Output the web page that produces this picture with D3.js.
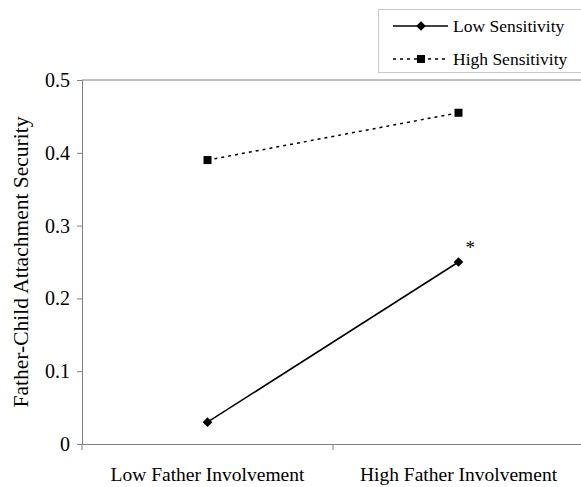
<!DOCTYPE html>
<html>
<head>
<meta charset="utf-8">
<script src="https://cdn.jsdelivr.net/npm/d3@7"></script>
<style>
  body { margin: 0; background: #fff; }
  text { font-family: "Liberation Serif", "Times New Roman", serif; fill: #000; }
</style>
</head>
<body>
<div id="chart"></div>
<script>
// data
const categories = ["Low Father Involvement", "High Father Involvement"];
const lowSensitivity = [0.03, 0.25];
const highSensitivity = [0.39, 0.455];
const yTicks = [0, 0.1, 0.2, 0.3, 0.4, 0.5];

const WIDTH = 581, HEIGHT = 487;
const LEFT = 82, TOP = 80, BOTTOM = 444;
const CAT_WIDTH = 251;
const SERIF = "Liberation Serif, Times New Roman, serif";

const svg = d3.select("#chart").append("svg")
    .attr("width", WIDTH)
    .attr("height", HEIGHT);

// scales
const x = d3.scaleBand()
    .domain(categories)
    .range([LEFT, LEFT + CAT_WIDTH * categories.length]);

const y = d3.scaleLinear()
    .domain([0, 0.5])
    .range([BOTTOM, TOP]);

// plot area top border
svg.append("line")
    .attr("x1", LEFT).attr("x2", WIDTH)
    .attr("y1", TOP).attr("y2", TOP)
    .attr("stroke", "#808080").attr("stroke-width", 1);

// y axis
const yAxis = svg.append("g")
    .attr("transform", `translate(${LEFT},0)`)
    .call(d3.axisLeft(y).tickValues(yTicks).tickSize(5).tickPadding(7)
        .tickFormat(d => d === 0 ? "0" : d3.format(".1f")(d)))
    .attr("font-family", SERIF);
yAxis.select(".domain").attr("stroke", "#808080");
yAxis.selectAll(".tick line").attr("stroke", "#808080");
yAxis.selectAll("text").style("font-size", "20px").style("font-family", SERIF);

// x axis
const xAxis = svg.append("g")
    .attr("transform", `translate(0,${BOTTOM})`)
    .call(d3.axisBottom(x).tickSize(0).tickPadding(23))
    .attr("font-family", SERIF);
xAxis.select(".domain").attr("stroke", "#808080").attr("d", `M${LEFT},0.5H${WIDTH}`);
xAxis.selectAll("text").style("font-size", "19.5px").style("font-family", SERIF);
// category boundary ticks
const boundaries = categories.map(c => x(c));
xAxis.selectAll(".bound").data(boundaries).join("line")
    .attr("class", "bound")
    .attr("x1", d => d).attr("x2", d => d)
    .attr("y1", 0).attr("y2", 6)
    .attr("stroke", "#808080");

// y axis title
svg.append("text")
    .attr("transform", `translate(28,${(TOP + BOTTOM) / 2}) rotate(-90)`)
    .attr("text-anchor", "middle")
    .style("font-size", "21.5px")
    .text("Father-Child Attachment Security");

const cx = (d, i) => x(categories[i]) + x.bandwidth() / 2;

const line = d3.line()
    .x((d, i) => cx(d, i))
    .y(d => y(d));

// high sensitivity (dotted, squares)
svg.append("path")
    .datum(highSensitivity)
    .attr("d", line)
    .attr("fill", "none")
    .attr("stroke", "#000")
    .attr("stroke-width", 1.5)
    .attr("stroke-dasharray", "3,4");

svg.selectAll(".sq").data(highSensitivity).join("rect")
    .attr("class", "sq")
    .attr("x", (d, i) => cx(d, i) - 4)
    .attr("y", d => y(d) - 4)
    .attr("width", 8).attr("height", 8)
    .attr("fill", "#000");

// low sensitivity (solid, diamonds)
svg.append("path")
    .datum(lowSensitivity)
    .attr("d", line)
    .attr("fill", "none")
    .attr("stroke", "#000")
    .attr("stroke-width", 1.5);

const diamond = d3.symbol().type(d3.symbolDiamond2).size(60);
svg.selectAll(".dm").data(lowSensitivity).join("path")
    .attr("class", "dm")
    .attr("d", diamond)
    .attr("transform", (d, i) => `translate(${cx(d, i)},${y(d)})`)
    .attr("fill", "#000");

// significance marker
svg.append("text")
    .attr("x", cx(lowSensitivity[1], 1) + 7)
    .attr("y", y(lowSensitivity[1]) - 8)
    .style("font-size", "19px")
    .text("*");

// legend
const legend = svg.append("g");
legend.append("rect")
    .attr("x", 378.5).attr("y", 9.5)
    .attr("width", 210).attr("height", 63)
    .attr("fill", "#fff")
    .attr("stroke", "#c8c8c8");

const legendRows = [
    { label: "Low Sensitivity", dash: null, marker: "diamond" },
    { label: "High Sensitivity", dash: "3,4", marker: "square" }
];
legendRows.forEach((r, i) => {
    const ly = 26 + i * 33;
    legend.append("line")
        .attr("x1", 393).attr("x2", 448)
        .attr("y1", ly).attr("y2", ly)
        .attr("stroke", "#000").attr("stroke-width", 1.5)
        .attr("stroke-dasharray", r.dash);
    if (r.marker === "diamond") {
        legend.append("path")
            .attr("d", diamond)
            .attr("transform", `translate(421,${ly})`)
            .attr("fill", "#000");
    } else {
        legend.append("rect")
            .attr("x", 417).attr("y", ly - 4)
            .attr("width", 8).attr("height", 8)
            .attr("fill", "#000");
    }
    legend.append("text")
        .attr("x", 453)
        .attr("y", ly + 6)
        .style("font-size", "17.5px")
        .text(r.label);
});
</script>
</body>
</html>
